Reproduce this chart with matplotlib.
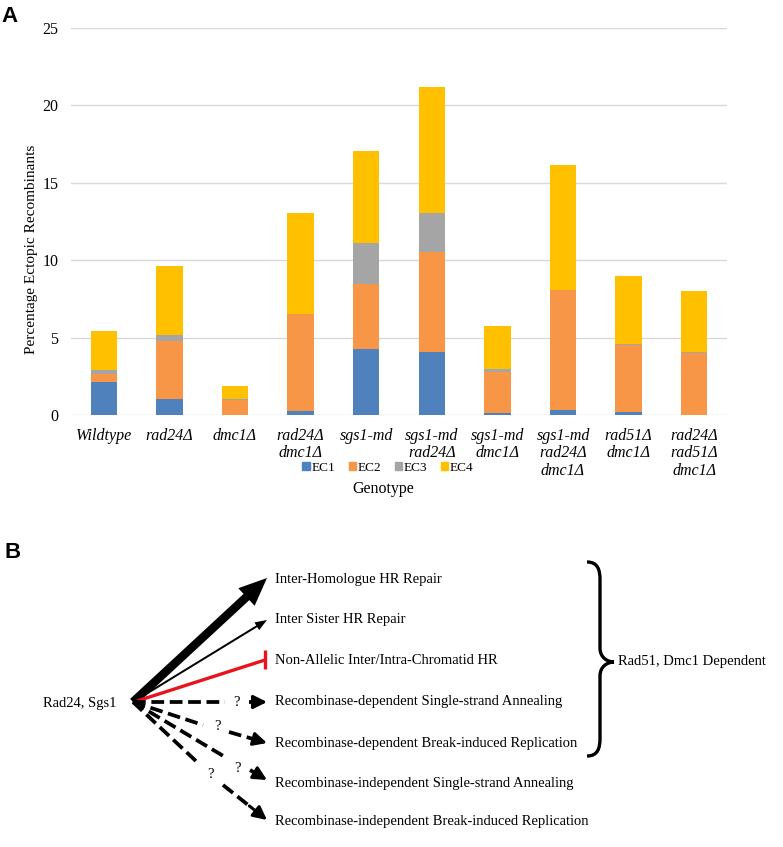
import matplotlib
matplotlib.use("Agg")
import matplotlib.pyplot as plt
from matplotlib.patches import Patch
from matplotlib.path import Path
from matplotlib.patches import PathPatch

plt.rcParams['font.family'] = ['Liberation Serif', 'DejaVu Serif']

# ---------------- data (panel A) ----------------
genotypes = ['Wildtype', 'rad24Δ', 'dmc1Δ', 'rad24Δ\ndmc1Δ', 'sgs1-md',
             'sgs1-md\nrad24Δ', 'sgs1-md\ndmc1Δ', 'sgs1-md\nrad24Δ\ndmc1Δ',
             'rad51Δ\ndmc1Δ', 'rad24Δ\nrad51Δ\ndmc1Δ']
ec1 = [2.15, 1.05, 0.0, 0.27, 4.26, 4.10, 0.10, 0.30, 0.17, 0.03]
ec2 = [0.50, 3.70, 0.97, 6.25, 4.22, 6.45, 2.70, 7.75, 4.35, 3.97]
ec3 = [0.25, 0.40, 0.08, 0.00, 2.63, 2.52, 0.15, 0.05, 0.05, 0.05]
ec4 = [2.55, 4.50, 0.84, 6.53, 5.96, 8.13, 2.80, 8.08, 4.42, 3.93]
series_names = ['EC1', 'EC2', 'EC3', 'EC4']
series_colors = ['#4F81BD', '#F79646', '#A5A5A5', '#FFC000']
yticks = [0, 5, 10, 15, 20, 25]

# ---------------- data (panel B) ----------------
origin_label = 'Rad24, Sgs1'
outcomes = ['Inter-Homologue HR Repair',
            'Inter Sister HR Repair',
            'Non-Allelic Inter/Intra-Chromatid HR',
            'Recombinase-dependent Single-strand Annealing',
            'Recombinase-dependent Break-induced Replication',
            'Recombinase-independent Single-strand Annealing',
            'Recombinase-independent Break-induced Replication']
brace_label = 'Rad51, Dmc1 Dependent'

W, H = 783, 847
fig = plt.figure(figsize=(W / 100, H / 100), dpi=100)

# ---------------- panel A ----------------
axA = fig.add_axes([71 / W, 1 - 415 / H, (727 - 71) / W, (415 - 28) / H])
x = list(range(len(genotypes)))
bottom = [0.0] * len(genotypes)
for vals, name, col in zip([ec1, ec2, ec3, ec4], series_names, series_colors):
    axA.bar(x, vals, width=0.4, bottom=bottom, color=col, label=name, zorder=3)
    bottom = [b + v for b, v in zip(bottom, vals)]
axA.set_xlim(-0.5, len(genotypes) - 0.5)
axA.set_ylim(0, 25)
axA.set_yticks(yticks)
axA.set_yticklabels([str(t) for t in yticks], fontsize=11.5)
axA.set_xticks(x)
axA.set_xticklabels(genotypes, fontsize=11.5, style='italic', linespacing=1.15, va='top')
axA.tick_params(axis='both', length=0)
axA.tick_params(axis='y', pad=9)
axA.tick_params(axis='x', pad=9)
for s in axA.spines.values():
    s.set_visible(False)
axA.yaxis.grid(True, color='#d9d9d9', lw=1.0, zorder=0)
axA.set_axisbelow(True)

fig.text(32 / W, 1 - 249 / H, 'Percentage Ectopic Recombinants', rotation=90,
         ha='center', va='center', fontsize=11)
fig.text(383 / W, 1 - 489 / H, 'Genotype', ha='center', va='center', fontsize=11.5)
handles = [Patch(color=c, label=n) for c, n in zip(series_colors, series_names)]
fig.legend(handles=handles, loc='center', bbox_to_anchor=(388 / W, 1 - 468 / H),
           ncol=4, frameon=False, fontsize=9.5, handlelength=0.55, handleheight=0.55,
           handletextpad=0.15, columnspacing=1.0)
fig.text(1 / W, 1 - 16 / H, 'A', fontsize=16, fontweight='bold',
         family='Liberation Sans', ha='left', va='center')

# ---------------- panel B ----------------
axB = fig.add_axes([0, 0, 1, 1])
axB.set_xlim(0, W)
axB.set_ylim(H, 0)
axB.axis('off')
axB.patch.set_alpha(0)

fig.text(5 / W, 1 - 552 / H, 'B', fontsize=16, fontweight='bold',
         family='Liberation Sans', ha='left', va='center')

ox, oy = 133, 702
text_x = 275
text_y = [579, 620, 661, 702, 743, 783, 822]
fs = 10.5
for t, ty in zip(outcomes, text_y):
    axB.text(text_x, ty, t, fontsize=fs, ha='left', va='center')
axB.text(43, 703, origin_label, fontsize=fs, ha='left', va='center')

# thick arrow
axB.arrow(ox, oy, 267 - ox, 578 - oy, width=8.5, head_width=24, head_length=28,
          length_includes_head=True, color='black', lw=0)
# thin arrow
axB.arrow(ox, oy, 267 - ox, 620 - oy, width=2.0, head_width=9, head_length=12,
          length_includes_head=True, color='black', lw=0)
# red inhibition
axB.plot([ox + 4, 265], [oy - 1, 660], color='#e8141b', lw=2.4, solid_capstyle='butt')
axB.plot([265, 265], [650, 669], color='#e8141b', lw=2.4, solid_capstyle='butt')

# dashed uncertain pathways: (line end), (? position), (arrow start), (arrow end)
dashed = [((225, 702), (236, 703), (249, 702), (267, 702)),
          ((203, 725), (217, 727), (229, 732), (267, 743)),
          ((225, 757), (237, 768), (250, 770), (267, 780)),
          ((197, 762), (210, 774), (223, 785), (267, 820))]
for (lx, ly), (qx, qy), (sx, sy), (ex, ey) in dashed:
    axB.plot([ox, lx], [oy, ly], color='black', lw=2.7, dashes=(3.4, 1.5),
             solid_capstyle='butt', dash_capstyle='butt')
    axB.text(qx, qy, '?', fontsize=fs, ha='center', va='center')
    fx = ex - (ex - sx) * 0.4
    fy = ey - (ey - sy) * 0.4
    axB.plot([sx, fx], [sy, fy], color='black', lw=2.7, dashes=(3.4, 1.5),
             dash_capstyle='butt')
    axB.annotate('', xy=(ex, ey), xytext=(fx, fy),
                 arrowprops=dict(arrowstyle='-|>,head_length=0.8,head_width=0.4',
                                 color='black', lw=2.2, shrinkA=0, shrinkB=0))

# brace
bx0, bx1, tipx = 587, 600, 614
top, bot, mid = 562, 756, 662
verts = [(bx0, top), (bx1 - 2, top), (bx1, top + 8), (bx1, top + 18),
         (bx1, mid - 14),
         (bx1, mid - 4), (tipx - 6, mid), (tipx, mid),
         (tipx - 6, mid), (bx1, mid + 4), (bx1, mid + 14),
         (bx1, bot - 18),
         (bx1, bot - 8), (bx1 - 2, bot), (bx0, bot)]
codes = [Path.MOVETO, Path.CURVE4, Path.CURVE4, Path.CURVE4,
         Path.LINETO,
         Path.CURVE4, Path.CURVE4, Path.CURVE4,
         Path.CURVE4, Path.CURVE4, Path.CURVE4,
         Path.LINETO,
         Path.CURVE4, Path.CURVE4, Path.CURVE4]
axB.add_patch(PathPatch(Path(verts, codes), fill=False, lw=2.4, color='black'))
axB.text(618, 662, brace_label, fontsize=fs, ha='left', va='center')

fig.savefig('out.png', dpi=100)
